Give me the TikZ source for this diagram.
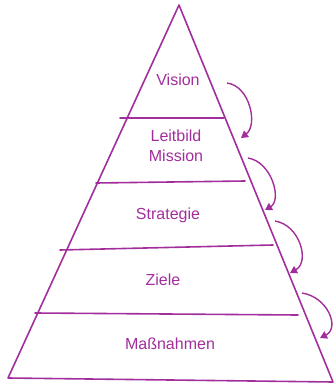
\documentclass[tikz,border=0pt]{standalone}
\usepackage{fontspec}
\setmainfont{Liberation Sans}
\usetikzlibrary{arrows.meta}
\definecolor{pen}{HTML}{A22E9C}
\begin{document}
\begin{tikzpicture}[x=1pt,y=-1pt,
  line/.style={draw=pen,line width=1.6pt,line cap=round,line join=round},
  lbl/.style={text=pen,font=\fontsize{16}{20}\selectfont,align=center,inner sep=0pt},
  flow/.style={draw=pen,line width=1.4pt,-{Triangle[width=8pt,length=7pt]}}]
\useasboundingbox (0,0) rectangle (336,385);
% pyramid
\coordinate (apex) at (179,5);
\coordinate (bl) at (8,378);
\coordinate (br) at (333,382);
\draw[line] (bl) -- (apex) -- (br) -- cycle;
\coordinate (l1a) at (120,118); \coordinate (l1b) at (224,118);
\coordinate (l2a) at (96,183);  \coordinate (l2b) at (245,181);
\coordinate (l3a) at (60,250);  \coordinate (l3b) at (273,245);
\coordinate (l4a) at (35,313);  \coordinate (l4b) at (298,315);
\draw[line] (l1a) -- (l1b);
\draw[line] (l2a) -- (l2b);
\draw[line] (l3a) -- (l3b);
\draw[line] (l4a) -- (l4b);
% labels
\node[lbl] (vision) at (178,80) {Vision};
\node[lbl] (leit) at (176,146) {Leitbild\\Mission};
\node[lbl] (strat) at (168,215) {Strategie};
\node[lbl] (ziele) at (163,280) {Ziele};
\node[lbl] (mass) at (170,344) {Maßnahmen};
% arrows
\coordinate (a1s) at (227,83);  \coordinate (a1e) at (241,138);
\coordinate (a2s) at (248,158); \coordinate (a2e) at (265,210);
\coordinate (a3s) at (275,221); \coordinate (a3e) at (290,273);
\coordinate (a4s) at (302,293); \coordinate (a4e) at (320,338);
\draw[flow] (a1s) .. controls (250,86) and (258,125) .. (a1e);
\draw[flow] (a2s) .. controls (272,162) and (282,200) .. (a2e);
\draw[flow] (a3s) .. controls (300,225) and (310,262) .. (a3e);
\draw[flow] (a4s) .. controls (328,297) and (340,328) .. (a4e);
\end{tikzpicture}
\end{document}
